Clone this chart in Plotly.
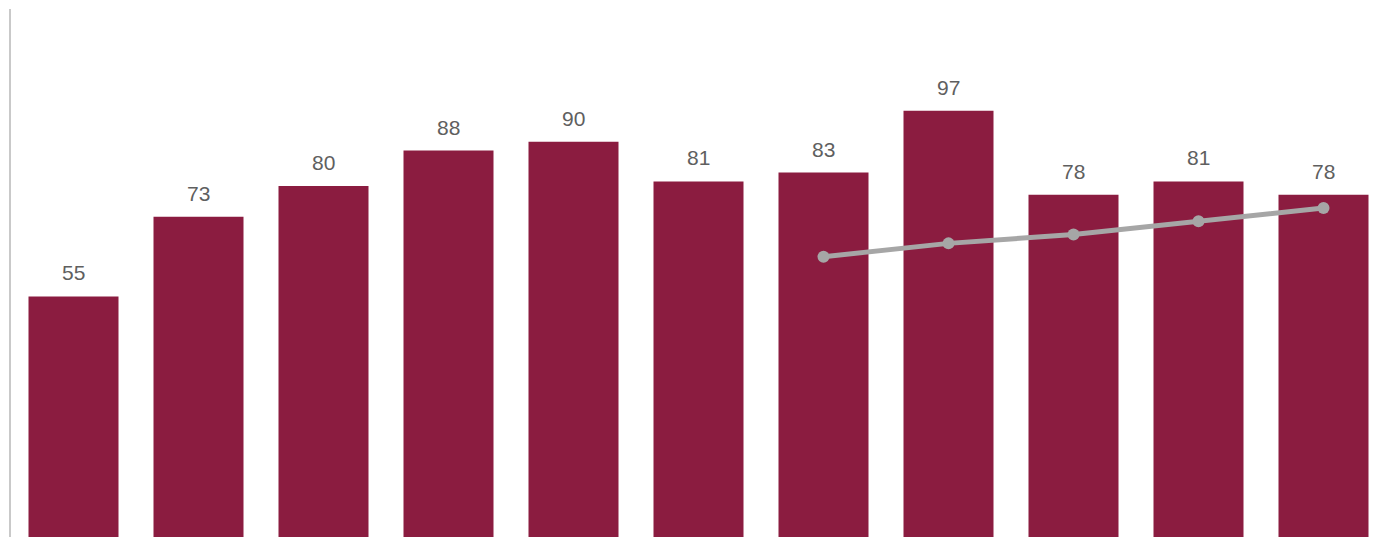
import plotly.graph_objects as go

categories = list(range(11))
bar_values = [55, 73, 80, 88, 90, 81, 83, 97, 78, 81, 78]
line_x = [6, 7, 8, 9, 10]
line_values = [64, 67, 69, 72, 75]

BAR_COLOR = "#8B1C40"
LINE_COLOR = "#A6A6A6"

fig = go.Figure()
fig.add_trace(go.Bar(x=categories, y=bar_values, width=0.72,
                     marker=dict(color=BAR_COLOR, line=dict(width=0)),
                     hoverinfo="skip"))
fig.add_trace(go.Scatter(x=line_x, y=line_values, mode="lines+markers",
                         line=dict(color=LINE_COLOR, width=5),
                         marker=dict(color=LINE_COLOR, size=12),
                         hoverinfo="skip"))

for x, v in zip(categories, bar_values):
    fig.add_annotation(x=x, y=v, text=str(v), showarrow=False,
                       yanchor="bottom", yshift=10,
                       font=dict(family="Liberation Sans, Arial", size=21, color="#5f5f5f"))

fig.update_layout(
    width=1376, height=537,
    margin=dict(l=11, r=0, t=9, b=0),
    paper_bgcolor="white", plot_bgcolor="white",
    showlegend=False,
    xaxis=dict(range=[-0.5, 10.42], showgrid=False, zeroline=False,
               showticklabels=False, showline=False, ticks=""),
    yaxis=dict(range=[0.6, 120], showgrid=False, zeroline=False,
               showticklabels=False, showline=True, linecolor="#C9C9C9",
               linewidth=2, ticks=""),
)

fig.write_html("out.html", config={"displayModeBar": False},
               post_script="document.body.style.margin='0';document.body.style.overflow='hidden';")
